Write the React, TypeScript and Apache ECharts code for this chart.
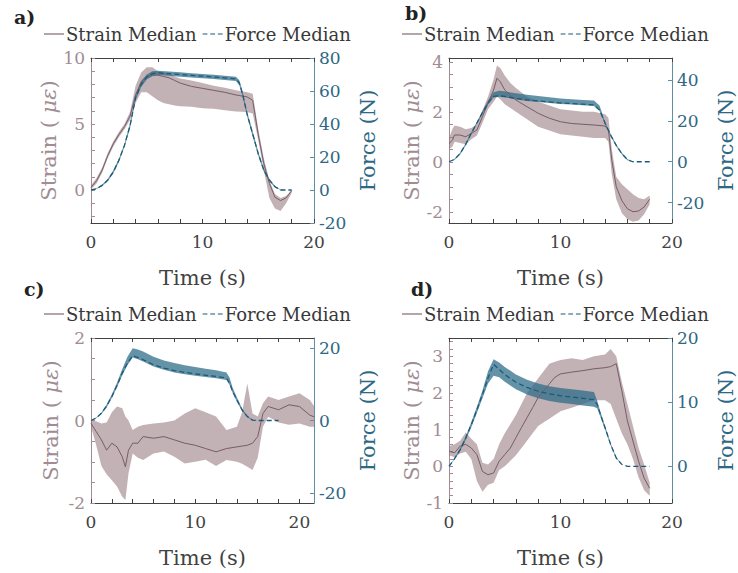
import React, { useEffect, useRef } from "react";
import * as echarts from "echarts";

const FONT = '"DejaVu Serif", serif';

// ---------- tick values / labels ----------
const xTicks20 = [0, 2, 4, 6, 8, 10, 12, 14, 16, 18, 20];
const xLabels20 = [0, 10, 20];

const aStrainLabels = [0, 5, 10];
const aStrainTicks = [-2, -1, 0, 1, 2, 3, 4, 5, 6, 7, 8, 9, 10];
const aForceLabels = [-20, 0, 20, 40, 60, 80];

const bStrainLabels = [-2, 0, 2, 4];
const bStrainTicks = [-2, -1.5, -1, -0.5, 0, 0.5, 1, 1.5, 2, 2.5, 3, 3.5, 4];
const bForceLabels = [-20, 0, 20, 40];

const cStrainLabels = [-2, 0, 2];
const cStrainTicks = [-2, -1.5, -1, -0.5, 0, 0.5, 1, 1.5, 2];
const cForceLabels = [-20, 0, 20];

const dStrainLabels = [-1, 0, 1, 2, 3];
const dStrainTicks = [-1, -0.8, -0.6, -0.4, -0.2, 0, 0.2, 0.4, 0.6, 0.8, 1, 1.2, 1.4, 1.6, 1.8, 2, 2.2, 2.4, 2.6, 2.8, 3, 3.2, 3.4];
const dForceLabels = [0, 10, 20];

// ---------- panel a ----------
const aStrainT = [0, 0.5, 1, 1.5, 2, 2.5, 3, 3.5, 4, 4.5, 5, 5.5, 6, 6.5, 7, 7.5, 8, 9, 10, 11, 12, 13, 14, 14.5, 15, 15.5, 16, 16.5, 17, 17.5, 18];
const aStrainMed = [0.2, 0.7, 1.5, 2.6, 3.5, 4.2, 4.8, 5.6, 7.2, 8.2, 8.6, 8.7, 8.7, 8.6, 8.5, 8.3, 8.1, 7.85, 7.7, 7.55, 7.4, 7.2, 7.05, 6.8, 4.2, 2.0, 0.5, -0.55, -0.8, -0.6, -0.05];
const aStrainUp = [0.35, 0.9, 1.7, 2.8, 3.7, 4.4, 5.0, 5.9, 7.9, 8.9, 9.3, 9.3, 9.0, 8.9, 8.8, 8.6, 8.45, 8.3, 8.1, 7.9, 7.75, 7.55, 7.4, 7.3, 4.6, 2.4, 0.7, -0.3, -0.6, -0.45, 0.0];
const aStrainLo = [0.05, 0.5, 1.3, 2.4, 3.3, 4.0, 4.6, 5.3, 6.6, 7.4, 7.4, 7.1, 6.8, 6.6, 6.5, 6.4, 6.35, 6.3, 6.2, 6.15, 6.05, 5.95, 5.9, 5.8, 3.8, 1.5, -0.6, -1.4, -1.6, -1.0, -0.2];
const aForceT = [0, 0.5, 1, 1.5, 2, 2.5, 3, 3.5, 4, 4.5, 5, 5.5, 6, 7, 8, 9, 10, 11, 12, 13, 13.3, 13.6, 14, 14.5, 15, 15.5, 16, 16.5, 17, 17.5, 18];
const aForceMed = [0, 0.8, 2.8, 6, 11, 18, 27, 39, 56, 64, 68.5, 70.5, 71, 70.5, 70, 69.5, 69, 68.5, 68, 67.3, 65, 58, 46, 34, 22, 12, 6, 2, 0, 0, 0];
const aForceUp = [0, 1, 3.3, 6.7, 12, 19, 28, 40.5, 57.5, 66, 70, 72, 72.3, 71.8, 71.3, 70.8, 70.3, 69.8, 69.3, 68.6, 66.5, 59.5, 47.5, 35.5, 23.2, 13, 6.8, 2.5, 0.3, 0, 0];
const aForceLo = [0, 0.6, 2.3, 5.3, 10, 17, 26, 37.5, 54.5, 62.5, 67, 69, 69.7, 69.2, 68.7, 68.2, 67.7, 67.2, 66.7, 66, 63.5, 56.5, 44.5, 32.5, 20.8, 11, 5.2, 1.5, 0, 0, 0];

// ---------- panel b ----------
const bStrainT = [0, 0.3, 0.5, 1, 1.5, 2, 2.5, 3, 3.5, 4, 4.3, 4.6, 5, 5.5, 6, 7, 8, 9, 10, 11, 12, 13, 14, 14.3, 14.6, 15, 15.5, 16, 16.5, 17, 17.5, 18];
const bStrainMed = [0.73, 0.86, 1.07, 1.07, 1.0, 1.13, 1.27, 1.8, 2.34, 2.87, 3.34, 3.2, 2.87, 2.65, 2.47, 2.2, 1.94, 1.74, 1.6, 1.53, 1.5, 1.47, 1.43, 1.27, 0.06, -1.0, -1.55, -1.88, -2.0, -1.97, -1.81, -1.5];
const bStrainUp = [0.95, 1.3, 1.45, 1.4, 1.3, 1.35, 1.5, 2.05, 2.6, 3.3, 3.85, 3.75, 3.45, 3.15, 2.95, 2.6, 2.4, 2.25, 2.1, 2.05, 2.0, 2.0, 1.9, 1.75, 0.5, -0.6, -0.9, -1.1, -1.3, -1.45, -1.5, -1.35];
const bStrainLo = [0.5, 0.6, 0.8, 0.75, 0.7, 0.9, 1.05, 1.55, 2.1, 2.4, 2.6, 2.5, 2.3, 2.15, 2.0, 1.7, 1.4, 1.25, 1.1, 1.05, 1.0, 0.95, 0.95, 0.8, -0.5, -1.5, -2.05, -2.3, -2.4, -2.35, -2.1, -1.7];
const bForceT = [0, 0.5, 1, 1.5, 2, 2.5, 3, 3.5, 4, 4.5, 5, 6, 7, 8, 9, 10, 11, 12, 13, 13.5, 14, 14.5, 15, 15.5, 16, 16.5, 17, 17.5, 18];
const bForceMed = [0, 1.2, 4, 8.5, 14, 19, 24, 28.7, 32, 32.3, 32, 31, 30.3, 29.8, 29.3, 28.8, 28.5, 28.2, 27.8, 25.4, 18.8, 13, 8, 4, 1, 0, 0, 0, 0];
const bForceUp = [0, 1.5, 4.5, 9, 14.5, 19.5, 24.8, 30, 34, 34.8, 34.5, 33.5, 32.8, 32.2, 31.6, 31, 30.6, 30.2, 30, 27.5, 19.5, 13.6, 8.5, 4.4, 1.3, 0, 0, 0, 0];
const bForceLo = [0, 0.9, 3.5, 8, 13.5, 18.5, 23.3, 28, 31.5, 31.8, 31.5, 30.5, 29.8, 29.3, 28.8, 28.3, 28, 27.7, 27.3, 24.8, 18.2, 12.4, 7.5, 3.6, 0.7, 0, 0, 0, 0];

// ---------- panel c ----------
const cStrainT = [0, 0.5, 1, 1.5, 2, 2.5, 3, 3.3, 3.6, 4, 4.5, 5, 6, 7, 8, 9, 10, 11, 12, 13, 14, 14.5, 15, 15.5, 16, 16.5, 17, 18, 19, 20, 21, 21.4];
const cStrainMed = [-0.07, -0.27, -0.47, -0.72, -0.55, -0.64, -0.88, -1.12, -0.72, -0.55, -0.55, -0.39, -0.43, -0.39, -0.47, -0.55, -0.6, -0.68, -0.76, -0.68, -0.64, -0.62, -0.6, -0.55, -0.39, 0.17, 0.34, 0.26, 0.38, 0.34, 0.13, 0.09];
const cStrainUp = [0.0, -0.02, -0.07, -0.05, 0.2, 0.34, 0.3, 0.1, 0.0, -0.23, -0.15, -0.11, -0.07, -0.05, 0.0, 0.17, 0.3, 0.2, 0.1, -0.23, -0.15, 0.2, 0.9, 0.17, 0.1, 0.42, 0.58, 0.5, 0.58, 0.66, 0.5, 0.35];
const cStrainLo = [-0.15, -0.6, -1.1, -1.3, -1.45, -1.6, -1.85, -1.93, -1.28, -0.8, -0.9, -0.96, -0.8, -0.75, -0.88, -1.04, -1.0, -0.95, -1.1, -0.96, -1.0, -1.05, -1.12, -1.2, -0.9, -0.15, 0.09, -0.05, -0.1, -0.07, -0.15, -0.15];
const cForceT = [0, 0.5, 1, 1.5, 2, 2.5, 3, 3.5, 4, 4.5, 5, 6, 7, 8, 9, 10, 11, 12, 13, 13.3, 13.6, 14, 14.5, 15, 15.5, 16, 17, 18];
const cForceMed = [0, 0.7, 2, 4, 6.6, 9.7, 13.1, 15.9, 17.9, 17.4, 16.8, 15.4, 14.5, 13.8, 13.3, 12.9, 12.5, 12.2, 11.7, 10.3, 8, 5.7, 2.9, 1.1, 0.1, 0, 0, 0];
const cForceUp = [0, 0.8, 2.2, 4.4, 7.2, 10.5, 14.2, 17.6, 20, 19.6, 19.1, 17.6, 16.6, 15.9, 15.3, 14.8, 14.3, 13.9, 13.3, 11.8, 9, 6.4, 3.3, 1.3, 0.2, 0, 0, 0];
const cForceLo = [0, 0.6, 1.8, 3.6, 6.2, 9.2, 12.5, 15.3, 17.4, 16.9, 16.3, 14.9, 14, 13.3, 12.8, 12.4, 12, 11.7, 11.2, 9.8, 7.5, 5.2, 2.6, 0.9, 0, 0, 0, 0];

// ---------- panel d ----------
const dStrainT = [0, 0.5, 1, 1.5, 2, 2.5, 3, 3.5, 4, 4.5, 5, 5.5, 6, 6.5, 7, 7.5, 8, 8.5, 9, 9.5, 10, 11, 12, 13, 14, 14.5, 15, 15.5, 16, 16.5, 17, 17.5, 18];
const dStrainMed = [0.41, 0.37, 0.55, 0.6, 0.5, 0.32, -0.14, -0.23, -0.18, 0.14, 0.32, 0.5, 0.78, 1.06, 1.33, 1.6, 1.88, 2.06, 2.25, 2.43, 2.52, 2.57, 2.61, 2.66, 2.69, 2.72, 2.8, 2.06, 1.24, 0.69, 0.14, -0.32, -0.6];
const dStrainUp = [0.55, 0.6, 0.7, 0.92, 0.75, 0.6, 0.1, 0.05, 0.2, 0.6, 0.9, 1.15, 1.4, 1.7, 2.0, 2.2, 2.4, 2.6, 2.8, 2.85, 2.9, 2.95, 2.9, 3.0, 3.05, 3.2, 3.0, 2.3, 1.7, 1.1, 0.5, 0.05, -0.45];
const dStrainLo = [0.3, 0.25, 0.35, 0.4, 0.2, -0.4, -0.69, -0.5, -0.45, -0.1, 0.0, 0.15, 0.3, 0.5, 0.7, 0.9, 1.1, 1.2, 1.3, 1.4, 1.5, 1.6, 1.7, 1.8, 1.8, 1.7, 1.3, 0.9, 0.6, 0.2, -0.3, -0.65, -0.8];
const dForceT = [0, 0.5, 1, 1.5, 2, 2.5, 3, 3.5, 4, 4.5, 5, 6, 7, 8, 9, 10, 11, 12, 13, 13.3, 13.6, 14, 14.5, 15, 15.5, 16, 17, 18];
const dForceMed = [0, 1.2, 2.6, 4.4, 6.5, 8.8, 11.2, 13.8, 15.9, 15.1, 14.3, 13.1, 12.3, 11.7, 11.3, 11.0, 10.8, 10.6, 10.4, 9.6, 8, 6.0, 3.4, 1.3, 0.3, 0, 0, 0];
const dForceUp = [0, 1.3, 2.8, 4.7, 6.9, 9.3, 11.8, 14.8, 16.7, 16.2, 15.5, 14.3, 13.5, 12.9, 12.5, 12.2, 12.0, 11.8, 11.6, 10.2, 8.4, 6.3, 3.6, 1.4, 0.3, 0, 0, 0];
const dForceLo = [0, 1.1, 2.4, 4.1, 6.1, 8.3, 10.6, 12.9, 14.1, 13.9, 13.2, 12, 11.2, 10.6, 10.2, 9.9, 9.7, 9.5, 9.3, 9.0, 7.6, 5.7, 3.2, 1.2, 0.3, 0, 0, 0];

// ---------- colours ----------
const STRAIN_LINE = "#765d67";
const STRAIN_BAND = "rgba(150,120,128,0.58)";
const STRAIN_AXIS = "#a08c92";
const FORCE_LINE = "#1d5a77";
const FORCE_BAND = "rgba(40,105,135,0.72)";
const FORCE_AXIS = "#2d6884";
const DARK = "#424242";

const zip = (t: number[], v: number[]) => t.map((x, i) => [x, v[i]]);

const DASH_ICON = "path://M0,0h5v1h-5z M8,0h5v1h-5z M16,0h5v1h-5z";

function bandSeries(t: number[], up: number[], lo: number[], xi: number, yi: number, color: string) {
  return {
    type: "custom",
    xAxisIndex: xi,
    yAxisIndex: yi,
    silent: true,
    clip: true,
    data: t.map((x, i) => [x, lo[i], up[i]]),
    encode: { x: 0, y: [1, 2] },
    renderItem: (params: any, api: any) => {
      if (params.dataIndex !== 0) return null;
      const pts: number[][] = [];
      for (let i = 0; i < t.length; i++) pts.push(api.coord([t[i], up[i]]));
      for (let i = t.length - 1; i >= 0; i--) pts.push(api.coord([t[i], lo[i]]));
      return { type: "polygon", shape: { points: pts }, style: { fill: color, stroke: null } };
    },
  };
}

export default function App() {
  const ref = useRef<HTMLDivElement>(null);

  useEffect(() => {
    if (!ref.current) return;
    const chart = echarts.init(ref.current, undefined, { renderer: "svg" });

    const panels = [
      {
        id: "a", left: 91, top: 58, xMax: 20,
        sMin: -2.5, sMax: 10, sLabels: aStrainLabels, sTicks: aStrainTicks,
        fMin: -20, fMax: 80, fLabels: aForceLabels,
        sT: aStrainT, sMed: aStrainMed, sUp: aStrainUp, sLo: aStrainLo,
        fT: aForceT, fMed: aForceMed, fUp: aForceUp, fLo: aForceLo,
        sGap: 30, fGap: 43, lab: [14, 7], leg: [44, 25],
      },
      {
        id: "b", left: 449, top: 58, xMax: 20,
        sMin: -2.45, sMax: 4.15, sLabels: bStrainLabels, sTicks: bStrainTicks,
        fMin: -30, fMax: 50.8, fLabels: bForceLabels,
        sT: bStrainT, sMed: bStrainMed, sUp: bStrainUp, sLo: bStrainLo,
        fT: bForceT, fMed: bForceMed, fUp: bForceUp, fLo: bForceLo,
        sGap: 26, fGap: 43, lab: [405, 3], leg: [402, 25],
      },
      {
        id: "c", left: 91, top: 338, xMax: 21.4,
        sMin: -2, sMax: 2, sLabels: cStrainLabels, sTicks: cStrainTicks,
        fMin: -22.8, fMax: 22.8, fLabels: cForceLabels,
        sT: cStrainT, sMed: cStrainMed, sUp: cStrainUp, sLo: cStrainLo,
        fT: cForceT, fMed: cForceMed, fUp: cForceUp, fLo: cForceLo,
        sGap: 30, fGap: 43, lab: [24, 279], leg: [44, 305],
      },
      {
        id: "d", left: 449, top: 338, xMax: 20,
        sMin: -1, sMax: 3.5, sLabels: dStrainLabels, sTicks: dStrainTicks,
        fMin: -5.714, fMax: 20, fLabels: dForceLabels,
        sT: dStrainT, sMed: dStrainMed, sUp: dStrainUp, sLo: dStrainLo,
        fT: dForceT, fMed: dForceMed, fUp: dForceUp, fLo: dForceLo,
        sGap: 25, fGap: 43, lab: [411, 279], leg: [402, 305],
      },
    ];

    const grid: any[] = [];
    const xAxis: any[] = [];
    const yAxis: any[] = [];
    const series: any[] = [];
    const legend: any[] = [];
    const graphic: any[] = [];

    panels.forEach((p, i) => {
      grid.push({ left: p.left, top: p.top, width: 223, height: 165, containLabel: false });
      const xBase = {
        type: "value", gridIndex: i, min: 0, max: p.xMax,
        splitLine: { show: false },
        axisLine: { show: true, onZero: false, lineStyle: { color: DARK, width: 1 } },
        axisTick: { show: true, inside: true, length: 4, customValues: xTicks20, lineStyle: { color: DARK } },
      };
      xAxis.push({
        ...xBase, position: "bottom",
        axisLabel: { show: true, customValues: xLabels20, color: DARK, fontFamily: FONT, fontSize: 17, margin: 10 },
        name: "Time (s)", nameLocation: "middle", nameGap: 44,
        nameTextStyle: { color: DARK, fontFamily: FONT, fontSize: 21 },
      });
      xAxis.push({ ...xBase, position: "top", axisLabel: { show: false } });
      yAxis.push({
        type: "value", gridIndex: i, position: "left", min: p.sMin, max: p.sMax,
        splitLine: { show: false },
        axisLine: { show: true, onZero: false, lineStyle: { color: STRAIN_AXIS, width: 1 } },
        axisTick: { show: true, inside: true, length: 4, customValues: p.sTicks, lineStyle: { color: STRAIN_AXIS } },
        axisLabel: { customValues: p.sLabels, color: STRAIN_AXIS, fontFamily: FONT, fontSize: 17, margin: 6 },
        name: "Strain ( {m|με})", nameLocation: "middle", nameGap: p.sGap,
        nameTextStyle: {
          color: STRAIN_AXIS, fontFamily: FONT, fontSize: 21,
          rich: { m: { fontStyle: "italic", fontFamily: FONT, fontSize: 21, color: STRAIN_AXIS } },
        },
      });
      yAxis.push({
        type: "value", gridIndex: i, position: "right", min: p.fMin, max: p.fMax,
        splitLine: { show: false },
        axisLine: { show: true, onZero: false, lineStyle: { color: "#5f8fa5", width: 1 } },
        axisTick: { show: true, inside: true, length: 4, customValues: p.fLabels, lineStyle: { color: "#5f8fa5" } },
        axisLabel: { customValues: p.fLabels, color: FORCE_AXIS, fontFamily: FONT, fontSize: 17, margin: 5 },
        name: "Force (N)", nameLocation: "middle", nameGap: p.fGap,
        nameTextStyle: { color: FORCE_AXIS, fontFamily: FONT, fontSize: 21 },
      });

      const xi = 2 * i;
      series.push(bandSeries(p.sT, p.sUp, p.sLo, xi, 2 * i, STRAIN_BAND));
      series.push(bandSeries(p.fT, p.fUp, p.fLo, xi, 2 * i + 1, FORCE_BAND));
      series.push({
        type: "line", symbol: "none", silent: true, xAxisIndex: xi,
        name: "Strain Median", yAxisIndex: 2 * i,
        data: zip(p.sT, p.sMed), lineStyle: { color: STRAIN_LINE, width: 1 }, itemStyle: { color: STRAIN_LINE },
      });
      series.push({
        type: "line", symbol: "none", silent: true, xAxisIndex: xi,
        name: "Force Median", yAxisIndex: 2 * i + 1,
        data: zip(p.fT, p.fMed), lineStyle: { color: FORCE_LINE, width: 1.3, type: [5, 3] }, itemStyle: { color: FORCE_LINE },
      });

      legend.push({
        left: p.leg[0], top: p.leg[1], padding: 0, selectedMode: false,
        data: [
          { name: "Strain Median", icon: "rect", itemStyle: { color: "#8c747c" } },
          { name: "Force Median", icon: DASH_ICON, itemStyle: { color: FORCE_LINE } },
        ],
        itemWidth: 20, itemHeight: 1.3, itemGap: 6,
        textStyle: { fontFamily: FONT, fontSize: 18, color: "#383838", padding: [0, 0, 0, -3] },
      });
      graphic.push({
        type: "text", left: p.lab[0], top: p.lab[1],
        style: { text: p.id + ")", font: `bold 19px ${FONT}`, fill: "#222" },
      });
    });

    chart.setOption({
      animation: false,
      backgroundColor: "#ffffff",
      grid, xAxis, yAxis, series, legend, graphic,
    });

    return () => chart.dispose();
  }, []);

  return (
    <div
      ref={ref}
      style={{ position: "fixed", left: 0, top: 0, width: 738, height: 573, background: "#fff" }}
    />
  );
}
